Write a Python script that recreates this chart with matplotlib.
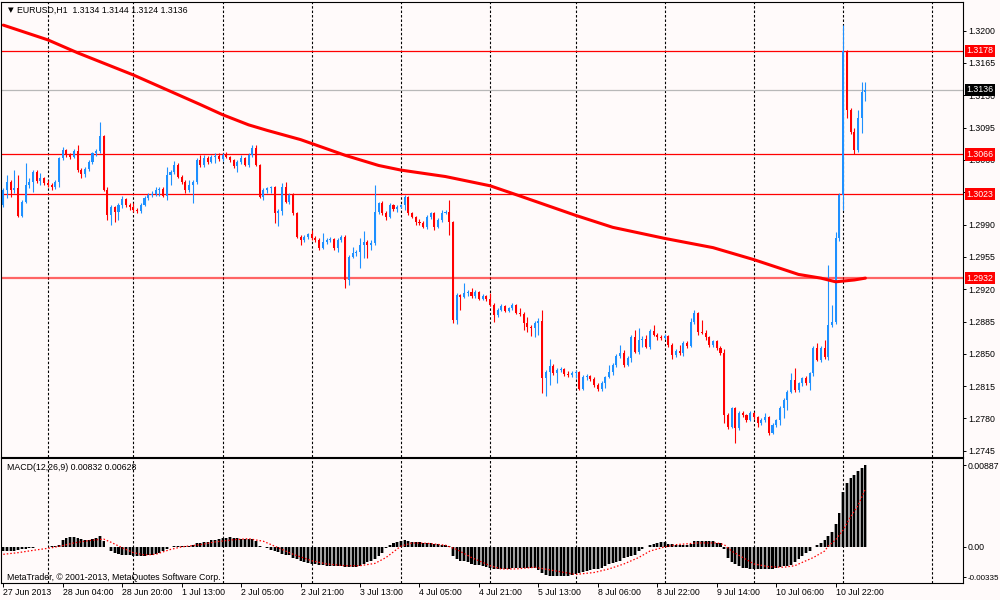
import numpy as np
import pandas as pd
import matplotlib
matplotlib.use("Agg")
import matplotlib.pyplot as plt

plt.rcParams['font.family'] = ['Liberation Sans', 'DejaVu Sans']

# EURUSD H1 candles, open of each bar = previous close
first_open = 1.3011
closes = [
    1.3027, 1.3036, 1.3027, 1.3030, 1.2999, 1.3014, 1.3033, 1.3036, 1.3047, 1.3037,
    1.3040, 1.3035, 1.3033, 1.3031, 1.3036, 1.3062, 1.3071, 1.3065, 1.3063, 1.3070,
    1.3049, 1.3045, 1.3050, 1.3058, 1.3067, 1.3070, 1.3086, 1.3027, 1.3000, 1.3009,
    1.3004, 1.3011, 1.3018, 1.3011, 1.3009, 1.3006, 1.3005, 1.3011, 1.3019, 1.3022,
    1.3023, 1.3027, 1.3029, 1.3021, 1.3044, 1.3047, 1.3055, 1.3042, 1.3036, 1.3027,
    1.3033, 1.3036, 1.3060, 1.3055, 1.3062, 1.3058, 1.3063, 1.3064, 1.3061, 1.3065,
    1.3063, 1.3060, 1.3053, 1.3058, 1.3062, 1.3055, 1.3065, 1.3073, 1.3055, 1.3020,
    1.3027, 1.3030, 1.3031, 1.3003, 1.3005, 1.3031, 1.3014, 1.3022, 1.3003, 1.2977,
    1.2973, 1.2977, 1.2980, 1.2975, 1.2973, 1.2965, 1.2971, 1.2973, 1.2974, 1.2965,
    1.2973, 1.2977, 1.2930, 1.2955, 1.2959, 1.2960, 1.2968, 1.2971, 1.2968, 1.2970,
    1.3004, 1.3013, 1.3003, 1.2998, 1.3011, 1.3007, 1.3009, 1.3011, 1.3020, 1.3003,
    1.2998, 1.2993, 1.2992, 1.2987, 1.2998, 1.3003, 1.2987, 1.2995, 1.3003, 1.3004,
    1.2993, 1.2887, 1.2914, 1.2912, 1.2916, 1.2917, 1.2913, 1.2917, 1.2909, 1.2913,
    1.2909, 1.2903, 1.2892, 1.2898, 1.2902, 1.2896, 1.2900, 1.2903, 1.2894, 1.2893,
    1.2883, 1.2879, 1.2878, 1.2883, 1.2886, 1.2824, 1.2830, 1.2837, 1.2829, 1.2833,
    1.2834, 1.2828, 1.2827, 1.2829, 1.2830, 1.2812, 1.2825, 1.2826, 1.2823, 1.2816,
    1.2812, 1.2818, 1.2825, 1.2830, 1.2838, 1.2848, 1.2851, 1.2838, 1.2846, 1.2868,
    1.2852, 1.2865, 1.2866, 1.2857, 1.2875, 1.2870, 1.2868, 1.2867, 1.2869, 1.2860,
    1.2849, 1.2853, 1.2851, 1.2862, 1.2858, 1.2884, 1.2894, 1.2874, 1.2873, 1.2868,
    1.2860, 1.2864, 1.2856, 1.2851, 1.2784, 1.2771, 1.2791, 1.2770, 1.2786, 1.2784,
    1.2778, 1.2786, 1.2782, 1.2775, 1.2778, 1.2782, 1.2764, 1.2773, 1.2778, 1.2791,
    1.2800, 1.2809, 1.2822, 1.2811, 1.2818, 1.2824, 1.2818, 1.2829, 1.2856, 1.2843,
    1.2856, 1.2847, 1.2881, 1.2884, 1.2975, 1.3022, 1.3178, 1.3114, 1.3090, 1.3071,
    1.3105, 1.3134, 1.3136,
]
highs = [
    1.3030, 1.3044, 1.3038, 1.3049, 1.3044, 1.3017, 1.3057, 1.3040, 1.3049, 1.3049,
    1.3046, 1.3042, 1.3038, 1.3035, 1.3038, 1.3063, 1.3074, 1.3072, 1.3067, 1.3072,
    1.3076, 1.3051, 1.3052, 1.3060, 1.3069, 1.3072, 1.3101, 1.3087, 1.3031, 1.3011,
    1.3010, 1.3013, 1.3021, 1.3019, 1.3013, 1.3013, 1.3008, 1.3013, 1.3021, 1.3024,
    1.3026, 1.3031, 1.3031, 1.3031, 1.3052, 1.3049, 1.3059, 1.3057, 1.3044, 1.3038,
    1.3038, 1.3038, 1.3062, 1.3065, 1.3065, 1.3064, 1.3065, 1.3067, 1.3067, 1.3067,
    1.3069, 1.3064, 1.3061, 1.3060, 1.3065, 1.3063, 1.3067, 1.3076, 1.3076, 1.3056,
    1.3030, 1.3031, 1.3032, 1.3032, 1.3007, 1.3035, 1.3036, 1.3024, 1.3024, 1.3004,
    1.2979, 1.2979, 1.2981, 1.2984, 1.2978, 1.2975, 1.2981, 1.2975, 1.2977, 1.2975,
    1.2975, 1.2979, 1.2979, 1.2957, 1.2966, 1.2962, 1.2975, 1.2983, 1.2973, 1.2973,
    1.3033, 1.3014, 1.3016, 1.3005, 1.3013, 1.3012, 1.3011, 1.3012, 1.3022, 1.3021,
    1.3004, 1.2999, 1.2996, 1.2994, 1.3000, 1.3004, 1.3004, 1.2997, 1.3006, 1.3006,
    1.3017, 1.2994, 1.2916, 1.2915, 1.2927, 1.2919, 1.2921, 1.2919, 1.2918, 1.2915,
    1.2914, 1.2916, 1.2905, 1.2900, 1.2904, 1.2903, 1.2901, 1.2905, 1.2904, 1.2900,
    1.2895, 1.2890, 1.2881, 1.2886, 1.2889, 1.2897, 1.2833, 1.2844, 1.2839, 1.2835,
    1.2836, 1.2835, 1.2831, 1.2831, 1.2833, 1.2831, 1.2827, 1.2828, 1.2827, 1.2825,
    1.2818, 1.2821, 1.2826, 1.2838, 1.2840, 1.2850, 1.2860, 1.2854, 1.2848, 1.2870,
    1.2876, 1.2878, 1.2869, 1.2870, 1.2877, 1.2881, 1.2873, 1.2870, 1.2872, 1.2870,
    1.2862, 1.2855, 1.2860, 1.2864, 1.2864, 1.2889, 1.2898, 1.2895, 1.2887, 1.2876,
    1.2869, 1.2865, 1.2865, 1.2858, 1.2855, 1.2786, 1.2792, 1.2792, 1.2788, 1.2788,
    1.2785, 1.2788, 1.2787, 1.2783, 1.2781, 1.2786, 1.2783, 1.2775, 1.2779, 1.2794,
    1.2802, 1.2811, 1.2829, 1.2835, 1.2820, 1.2825, 1.2826, 1.2830, 1.2858, 1.2862,
    1.2858, 1.2865, 1.2946, 1.2903, 1.2982, 1.3024, 1.3206, 1.3179, 1.3116, 1.3095,
    1.3114, 1.3144, 1.3144,
]
lows = [
    1.3009, 1.3019, 1.3020, 1.3024, 1.2998, 1.2998, 1.3013, 1.3030, 1.3025, 1.3035,
    1.3033, 1.3033, 1.3031, 1.3027, 1.3029, 1.3031, 1.3060, 1.3063, 1.3061, 1.3062,
    1.3047, 1.3040, 1.3042, 1.3048, 1.3056, 1.3064, 1.3067, 1.3026, 1.2995, 1.2990,
    1.2993, 1.2995, 1.3008, 1.3009, 1.3006, 1.3004, 1.3003, 1.3003, 1.3010, 1.3017,
    1.3020, 1.3021, 1.3021, 1.3020, 1.3017, 1.3033, 1.3045, 1.3040, 1.3034, 1.3024,
    1.3025, 1.3013, 1.3034, 1.3052, 1.3052, 1.3056, 1.3057, 1.3057, 1.3059, 1.3059,
    1.3062, 1.3058, 1.3051, 1.3047, 1.3056, 1.3053, 1.3052, 1.3063, 1.3053, 1.3019,
    1.3017, 1.3024, 1.3024, 1.2992, 1.2988, 1.3000, 1.3013, 1.3012, 1.3000, 1.2975,
    1.2968, 1.2971, 1.2974, 1.2973, 1.2971, 1.2962, 1.2964, 1.2969, 1.2971, 1.2962,
    1.2960, 1.2971, 1.2921, 1.2925, 1.2954, 1.2956, 1.2943, 1.2954, 1.2954, 1.2962,
    1.2968, 1.3001, 1.3000, 1.2995, 1.2997, 1.3005, 1.3004, 1.3008, 1.3006, 1.3000,
    1.2997, 1.2990, 1.2990, 1.2986, 1.2985, 1.2996, 1.2984, 1.2986, 1.2993, 1.3001,
    1.2979, 1.2883, 1.2882, 1.2897, 1.2911, 1.2913, 1.2911, 1.2911, 1.2908, 1.2908,
    1.2907, 1.2902, 1.2884, 1.2890, 1.2896, 1.2895, 1.2895, 1.2897, 1.2893, 1.2891,
    1.2876, 1.2874, 1.2869, 1.2868, 1.2870, 1.2808, 1.2804, 1.2816, 1.2827, 1.2818,
    1.2830, 1.2826, 1.2825, 1.2825, 1.2824, 1.2811, 1.2811, 1.2822, 1.2821, 1.2814,
    1.2810, 1.2810, 1.2813, 1.2824, 1.2827, 1.2836, 1.2846, 1.2836, 1.2837, 1.2841,
    1.2851, 1.2850, 1.2857, 1.2856, 1.2855, 1.2869, 1.2865, 1.2865, 1.2866, 1.2857,
    1.2844, 1.2847, 1.2849, 1.2848, 1.2856, 1.2857, 1.2882, 1.2870, 1.2872, 1.2865,
    1.2857, 1.2857, 1.2854, 1.2849, 1.2775, 1.2769, 1.2770, 1.2753, 1.2768, 1.2782,
    1.2776, 1.2777, 1.2779, 1.2771, 1.2773, 1.2776, 1.2762, 1.2763, 1.2771, 1.2773,
    1.2781, 1.2789, 1.2808, 1.2809, 1.2809, 1.2815, 1.2816, 1.2811, 1.2826, 1.2842,
    1.2841, 1.2844, 1.2843, 1.2879, 1.2882, 1.2972, 1.3006, 1.3105, 1.3088, 1.3066,
    1.3069, 1.3089, 1.3124,
]

# moving average (thick red line), read at a few bars
ma_idx = [0, 12, 20, 35, 44, 53, 59, 66, 71, 80, 92, 101, 107, 119, 131, 139, 154,
          164, 178, 191, 202, 214, 220, 224, 229, 232]
ma_val = [1.3206, 1.3190, 1.3176, 1.3152, 1.3136, 1.3120, 1.3109, 1.3098, 1.3092,
          1.3082, 1.3065, 1.3054, 1.3049, 1.3042, 1.3032, 1.3021, 1.3000, 1.2987,
          1.2975, 1.2965, 1.2952, 1.2936, 1.2932, 1.2928, 1.2930, 1.2932]

# MACD(12,26,9) main histogram, one value per bar
macd = [
    -0.0005, -0.0005, -0.0005, -0.0005, -0.0004, -0.0003, -0.0003, -0.0002, -0.0002, -0.0001,
    -0.0001, 0.0000, 0.0000, 0.0001, 0.0001, 0.0002, 0.0007, 0.0009, 0.0010, 0.0010,
    0.0009, 0.0008, 0.0007, 0.0007, 0.0008, 0.0009, 0.0011, 0.0006, -0.0001, -0.0005,
    -0.0007, -0.0008, -0.0009, -0.0009, -0.0009, -0.0010, -0.0010, -0.0010, -0.0010, -0.0009,
    -0.0009, -0.0008, -0.0007, -0.0005, -0.0003, 0.0000, 0.0001, 0.0001, 0.0001, 0.0001,
    0.0001, 0.0002, 0.0004, 0.0004, 0.0005, 0.0005, 0.0007, 0.0007, 0.0008, 0.0009,
    0.0009, 0.0010, 0.0009, 0.0009, 0.0008, 0.0008, 0.0008, 0.0008, 0.0006, 0.0001,
    -0.0001, -0.0002, -0.0004, -0.0005, -0.0006, -0.0008, -0.0009, -0.0009, -0.0012, -0.0014,
    -0.0016, -0.0017, -0.0018, -0.0019, -0.0019, -0.0020, -0.0020, -0.0021, -0.0021, -0.0021,
    -0.0021, -0.0021, -0.0022, -0.0022, -0.0022, -0.0022, -0.0021, -0.0019, -0.0017, -0.0016,
    -0.0014, -0.0010, -0.0007, -0.0002, 0.0002, 0.0004, 0.0005, 0.0006, 0.0007, 0.0006,
    0.0005, 0.0005, 0.0005, 0.0004, 0.0004, 0.0004, 0.0003, 0.0003, 0.0002, 0.0002,
    0.0001, -0.0010, -0.0014, -0.0016, -0.0016, -0.0017, -0.0019, -0.0020, -0.0020, -0.0021,
    -0.0022, -0.0023, -0.0024, -0.0025, -0.0024, -0.0024, -0.0024, -0.0023, -0.0023, -0.0023,
    -0.0023, -0.0023, -0.0023, -0.0023, -0.0026, -0.0029, -0.0031, -0.0032, -0.0032, -0.0032,
    -0.0032, -0.0032, -0.0032, -0.0031, -0.0030, -0.0029, -0.0028, -0.0027, -0.0026, -0.0025,
    -0.0024, -0.0023, -0.0021, -0.0019, -0.0018, -0.0017, -0.0016, -0.0012, -0.0011, -0.0010,
    -0.0009, -0.0005, -0.0003, -0.0001, 0.0002, 0.0003, 0.0004, 0.0005, 0.0005, 0.0003,
    0.0003, 0.0002, 0.0002, 0.0002, 0.0002, 0.0003, 0.0006, 0.0006, 0.0006, 0.0006,
    0.0006, 0.0006, 0.0004, 0.0004, -0.0003, -0.0012, -0.0017, -0.0019, -0.0021, -0.0023,
    -0.0023, -0.0024, -0.0024, -0.0024, -0.0024, -0.0024, -0.0024, -0.0024, -0.0023, -0.0022,
    -0.0021, -0.0021, -0.0020, -0.0017, -0.0014, -0.0010, -0.0007, -0.0005, 0.0000, 0.0002,
    0.0004, 0.0007, 0.0011, 0.0016, 0.0025, 0.0037, 0.0059, 0.0069, 0.0075, 0.0078,
    0.0082, 0.0085, 0.00887,
]
# MACD signal line (red dotted), read at a few bars
sig_idx = [0, 4, 8, 13, 16, 19, 23, 27, 29, 32, 35, 38, 41, 45, 48, 53, 57, 62, 66, 70,
           74, 78, 83, 87, 92, 96, 100, 103, 107, 110, 114, 119, 122, 126, 131, 134, 138,
           143, 147, 152, 154, 159, 163, 167, 171, 174, 178, 181, 187, 192, 194, 196, 199,
           202, 206, 210, 213, 215, 218, 221, 222, 224, 226, 228, 230, 232]
sig_val = [-0.00085, -0.00067, -0.00042, -0.00014, 0.0001, 0.00039, 0.00064, 0.00081,
           0.00046, -0.00014, -0.00067, -0.00092, -0.00085, -0.00032, -0.00004, 0.0002,
           0.0005, 0.00074, 0.00085, 0.00057, -0.00014, -0.00085, -0.00155, -0.0019,
           -0.00209, -0.00209, -0.00184, -0.0012, 0.00004, 0.00039, 0.00035, 0.00014,
           -0.00032, -0.0012, -0.00209, -0.00244, -0.00244, -0.00226, -0.00254, -0.0029,
           -0.00304, -0.00283, -0.00244, -0.0019, -0.0012, -0.0005, -0.00004, 0.0002,
           0.00039, 0.00039, 0.0002, -0.0005, -0.0012, -0.0019, -0.0022, -0.00226,
           -0.00209, -0.00173, -0.0012, -0.0005, 0.00004, 0.00074, 0.0018, 0.00322,
           0.00445, 0.00628]

red_levels = [1.3178, 1.3066, 1.3023, 1.2932]
bid = 1.3136
price_ticks = [1.3200, 1.3165, 1.3130, 1.3095, 1.3060, 1.3025, 1.2990, 1.2955,
               1.2920, 1.2885, 1.2850, 1.2815, 1.2780, 1.2745]
macd_ticks = [-0.00335, 0.0, 0.00887]
macd_tick_labels = ['-0.00335', '0.00', '0.00887']

# hourly bar times, broker week ends Friday 22:00
times = pd.date_range('2013-06-27 12:00', periods=420, freq='h')
times = times[(times.dayofweek < 4) | ((times.dayofweek == 4) & (times.hour < 23))][:260]

bg = '#fffafa'
bull, bear = '#1e90ff', '#ff0000'
fs = 6.3

n = len(closes)
idx = np.arange(n)
c = np.array(closes)
o = np.array([first_open] + closes[:-1])
h = np.maximum(np.array(highs), np.maximum(o, c))
l = np.minimum(np.array(lows), np.minimum(o, c))
up = c >= o
col = np.where(up, bull, bear)

fig = plt.figure(figsize=(10, 6), dpi=100, facecolor=bg)
ax = fig.add_axes([0.001, 1 - 456.7 / 600, 0.962, (456.7 - 2) / 600], facecolor=bg)
axm = fig.add_axes([0.001, 1 - 582.7 / 600, 0.962, (582.7 - 458.3) / 600],
                   facecolor=bg, sharex=ax)

day_starts = np.where(times.hour == 0)[0]
for a in (ax, axm):
    for d in day_starts:
        a.axvline(d, color='black', lw=0.8, ls=(0, (2.2, 1.8)), zorder=0.5)
    for s in a.spines.values():
        s.set_color('black')
        s.set_linewidth(0.8)

# main price panel
for lvl in red_levels:
    if lvl == red_levels[-1]:
        ax.axhline(lvl, color='#ff0000', lw=1.6, alpha=0.6, zorder=1)
    else:
        ax.axhline(lvl, color='#ff0000', lw=0.9, zorder=1)
ax.axhline(bid, color='#b8b8b8', lw=0.9, zorder=1)

ax.vlines(idx, l, h, colors=col, lw=0.8, zorder=2)
body = np.where(np.abs(c - o) < 0.00002, 0.00002, c - o)
ax.bar(idx, body, bottom=o, width=0.55, color=col, edgecolor='none', zorder=2.2)
ax.plot(ma_idx, ma_val, color='#ff0000', lw=2.2, solid_capstyle='round',
        solid_joinstyle='round', zorder=2.5)

ax.set_xlim((1 - 3.3) / 3.716, (963 - 3.3) / 3.716)
ax.set_ylim(1.32332 - 0.0001083 * 456.7, 1.32332 - 0.0001083 * 2)
ax.yaxis.tick_right()
ax.set_yticks(price_ticks)
ax.set_yticklabels([f'{p:.4f}' for p in price_ticks])
ax.tick_params(axis='y', length=2.5, width=0.7, pad=1.0, labelsize=fs, colors='black')
ax.tick_params(axis='x', bottom=False, labelbottom=False)

for lvl in red_levels + [bid]:
    ax.annotate(f'{lvl:.4f}', xy=(1, lvl), xycoords=('axes fraction', 'data'),
                xytext=(2.4, 0), textcoords='offset points', va='center', ha='left',
                fontsize=fs, color='white', annotation_clip=False, zorder=5,
                bbox=dict(boxstyle='square,pad=0.2',
                          fc='black' if lvl == bid else '#ff0000', ec='none'))

fig.text(7.5 / 1000, 1 - 12.3 / 600, '\u25bc', fontsize=5.3, va='baseline',
         family=['DejaVu Sans'])
fig.text(17 / 1000, 1 - 12.7 / 600, 'EURUSD,H1  1.3134 1.3144 1.3124 1.3136',
         fontsize=fs, va='baseline')

# MACD panel
axm.bar(idx, macd, width=1.0, color='#a0a0a0', edgecolor='none', zorder=1.5)
axm.bar(idx, macd, width=0.55, color='black', edgecolor='none', zorder=1.6)
axm.plot(sig_idx, sig_val, color='#ff0000', lw=0.9, ls=(0, (1.2, 1.6)), zorder=2)
axm.set_ylim(-0.00394, 0.00960)
axm.yaxis.tick_right()
axm.set_yticks(macd_ticks)
axm.set_yticklabels(macd_tick_labels)
axm.tick_params(axis='y', length=2.5, width=0.7, pad=1.0, labelsize=fs, colors='black')
axm.get_yticklabels()[0].set_fontsize(5.8)

label_idx = list(range(0, n, 16))
labels = [f'{times[i].day} {times[i].strftime("%b")} ' +
          (str(times[i].year) if i == 0 else times[i].strftime('%H:%M'))
          for i in label_idx]
axm.set_xticks(label_idx)
axm.set_xticklabels(labels, ha='left')
axm.tick_params(axis='x', length=3, width=0.7, pad=1.0, labelsize=fs, colors='black')

fig.text(7 / 1000, 1 - 469.5 / 600, 'MACD(12,26,9) 0.00832 0.00628',
         fontsize=fs, va='baseline')
fig.text(7 / 1000, 1 - 579.5 / 600, 'MetaTrader, \u00a9 2001-2013, MetaQuotes Software Corp.',
         fontsize=fs, va='baseline')

fig.savefig('out.png', dpi=100, facecolor=bg)
